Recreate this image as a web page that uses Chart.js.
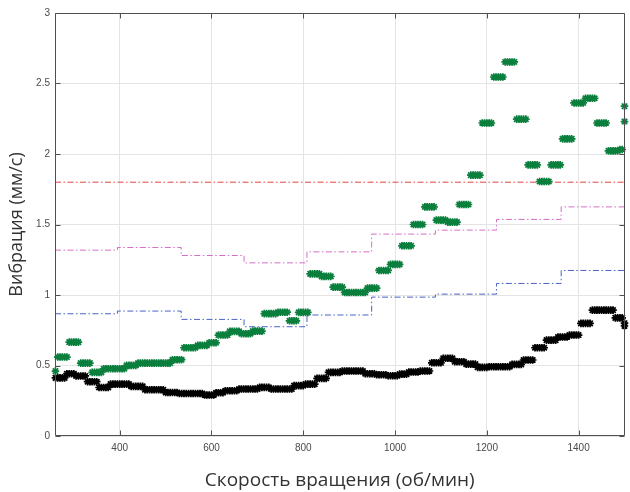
<!DOCTYPE html>
<html><head><meta charset="utf-8">
<script src="https://cdn.jsdelivr.net/npm/chart.js@4.4.1/dist/chart.umd.min.js"></script>
<style>html,body{margin:0;padding:0;background:#fff;} #wrap{width:630px;height:492px;position:relative;}</style>
</head><body><div id="wrap"><canvas id="c"></canvas></div>
<script>
// Speed (rpm) sample points
const rpm = [
 260,265,270,275,280,285,290,295,
 300,305,310,315,320,325,330,335,340,345,350,355,360,365,370,375,380,385,390,395,
 400,405,410,415,420,425,430,435,440,445,450,455,460,465,470,475,480,485,490,495,
 500,505,510,515,520,525,530,535,540,545,550,555,560,565,570,575,580,585,590,595,
 600,605,610,615,620,625,630,635,640,645,650,655,660,665,670,675,680,685,690,695,
 700,705,710,715,720,725,730,735,740,745,750,755,760,765,770,775,780,785,790,795,
 800,805,810,815,820,825,830,835,840,845,850,855,860,865,870,875,880,885,890,895,
 900,905,910,915,920,925,930,935,940,945,950,955,960,965,970,975,980,985,990,995,
 1000,1005,1010,1015,1020,1025,1030,1035,1040,1045,1050,1055,1060,1065,1070,1075,1080,1085,1090,1095,
 1100,1105,1110,1115,1120,1125,1130,1135,1140,1145,1150,1155,1160,1165,1170,1175,1180,1185,1190,1195,
 1200,1205,1210,1215,1220,1225,1230,1235,1240,1245,1250,1255,1260,1265,1270,1275,1280,1285,1290,1295,
 1300,1305,1310,1315,1320,1325,1330,1335,1340,1345,1350,1355,1360,1365,1370,1375,1380,1385,1390,1395,
 1400,1405,1410,1415,1420,1425,1430,1435,1440,1445,1450,1455,1460,1465,1470,1475,1480,1485,1490,1495,
 1500
];
// Green series (mm/s)
const vibGreen = [
 0.46,0.56,0.56,0.56,0.56,0.56,0.666,0.666,
 0.666,0.666,0.666,0.517,0.517,0.517,0.517,0.517,0.451,0.451,0.451,0.451,0.451,0.477,0.477,0.477,0.477,0.477,0.477,0.477,
 0.477,0.477,0.477,0.501,0.501,0.501,0.501,0.501,0.517,0.517,0.517,0.517,0.517,0.517,0.517,0.517,0.517,0.517,0.517,0.517,
 0.517,0.517,0.517,0.541,0.541,0.541,0.541,0.541,0.626,0.626,0.626,0.626,0.626,0.626,0.643,0.643,0.643,0.643,0.643,0.661,
 0.661,0.661,0.661,0.716,0.716,0.716,0.716,0.716,0.742,0.742,0.742,0.742,0.742,0.725,0.725,0.725,0.725,0.725,0.744,0.744,
 0.744,0.744,0.744,0.868,0.868,0.868,0.868,0.868,0.868,0.878,0.878,0.878,0.878,0.878,0.817,0.817,0.817,0.817,0.877,0.877,
 0.877,0.877,0.877,1.150,1.150,1.150,1.150,1.150,1.132,1.132,1.132,1.132,1.132,1.056,1.056,1.056,1.056,1.056,1.018,1.018,
 1.018,1.018,1.018,1.018,1.018,1.018,1.018,1.018,1.049,1.049,1.049,1.049,1.049,1.174,1.174,1.174,1.174,1.174,1.217,1.217,
 1.217,1.217,1.217,1.349,1.349,1.349,1.349,1.349,1.500,1.500,1.500,1.500,1.500,1.625,1.625,1.625,1.625,1.625,1.531,1.531,
 1.531,1.531,1.531,1.517,1.517,1.517,1.517,1.517,1.642,1.642,1.642,1.642,1.642,1.850,1.850,1.850,1.850,1.850,2.220,2.220,
 2.220,2.220,2.220,2.546,2.546,2.546,2.546,2.546,2.653,2.653,2.653,2.653,2.653,2.247,2.247,2.247,2.247,2.247,1.923,1.923,
 1.923,1.923,1.923,1.805,1.805,1.805,1.805,1.805,1.923,1.923,1.923,1.923,1.923,2.107,2.107,2.107,2.107,2.107,2.362,2.362,
 2.362,2.362,2.362,2.395,2.395,2.395,2.395,2.395,2.220,2.220,2.220,2.220,2.220,2.022,2.022,2.022,2.022,2.022,2.032,2.032,
 2.339
];
// Black series (mm/s)
const vibBlack = [
 0.412,0.412,0.412,0.412,0.412,0.442,0.442,0.442,
 0.442,0.426,0.426,0.426,0.426,0.426,0.385,0.385,0.385,0.385,0.385,0.344,0.344,0.344,0.344,0.344,0.368,0.368,0.368,0.368,
 0.368,0.368,0.368,0.368,0.368,0.352,0.352,0.352,0.352,0.352,0.352,0.328,0.328,0.328,0.328,0.328,0.328,0.328,0.328,0.328,
 0.308,0.308,0.308,0.308,0.308,0.308,0.301,0.301,0.301,0.301,0.301,0.301,0.301,0.301,0.301,0.301,0.301,0.291,0.291,0.291,
 0.291,0.291,0.307,0.307,0.307,0.307,0.321,0.321,0.321,0.321,0.321,0.321,0.333,0.333,0.333,0.333,0.333,0.333,0.333,0.333,
 0.333,0.345,0.345,0.345,0.345,0.345,0.333,0.333,0.333,0.333,0.333,0.333,0.333,0.333,0.333,0.333,0.357,0.357,0.357,0.357,
 0.357,0.368,0.368,0.368,0.368,0.368,0.409,0.409,0.409,0.409,0.409,0.451,0.451,0.451,0.451,0.451,0.451,0.461,0.461,0.461,
 0.461,0.461,0.461,0.461,0.461,0.461,0.461,0.442,0.442,0.442,0.442,0.442,0.434,0.434,0.434,0.434,0.434,0.427,0.427,0.427,
 0.427,0.427,0.439,0.439,0.439,0.439,0.454,0.454,0.454,0.454,0.454,0.461,0.461,0.461,0.461,0.461,0.519,0.519,0.519,0.519,
 0.519,0.551,0.551,0.551,0.551,0.551,0.527,0.527,0.527,0.527,0.527,0.510,0.510,0.510,0.510,0.510,0.487,0.487,0.487,0.487,
 0.487,0.491,0.491,0.491,0.491,0.491,0.491,0.491,0.491,0.491,0.491,0.508,0.508,0.508,0.508,0.508,0.539,0.539,0.539,0.539,
 0.539,0.626,0.626,0.626,0.626,0.626,0.680,0.680,0.680,0.680,0.680,0.702,0.702,0.702,0.702,0.702,0.716,0.716,0.716,0.716,
 0.716,0.799,0.799,0.799,0.799,0.799,0.893,0.893,0.893,0.893,0.893,0.893,0.893,0.893,0.893,0.893,0.838,0.838,0.838,0.838,
 0.800
];
// Extra end points at 1500 rpm
const extraRpm = [1500];
const extraGreen = [2.23];
const extraBlack = [0.78];
// Limit lines (stepped)
const limitRpm = [259, 395, 534, 671, 808, 949, 1088, 1221, 1362, 1500];
const limitMagenta = [1.318, 1.337, 1.28, 1.228, 1.306, 1.432, 1.46, 1.536, 1.625, 1.8];
const limitBlue = [0.867, 0.886, 0.827, 0.775, 0.858, 0.985, 1.006, 1.082, 1.174, 1.354];
const redRpm = [259, 1500];
const limitRed = [1.8, 1.8];
// Axes
const xTicks = [400, 600, 800, 1000, 1200, 1400];
const yTicks = [0, 0.5, 1, 1.5, 2, 2.5, 3];
const xTitle = 'Скорость вращения (об/мин)';
const yTitle = 'Вибрация (мм/с)';

const pts = (xs, ys) => xs.map((x, i) => ({x: x, y: ys[i]}));

const GREEN = '#0b7f3d';
const markerDs = (data, color) => ({
  type: 'scatter', data: data, showLine: false,
  pointStyle: 'star', pointRadius: 3.8, pointBorderWidth: 1.7,
  pointBorderColor: color, pointBackgroundColor: color, borderColor: color, backgroundColor: color,
  pointHoverRadius: 3.8, clip: false
});
const lineDs = (data, color) => ({
  type: 'line', data: data, showLine: true, stepped: true,
  borderColor: color, borderWidth: 1, borderDash: [6, 2.5, 1.5, 2.5],
  pointRadius: 0, fill: false, clip: false
});

const boxPlugin = {
  id: 'box',
  afterDraw(chart) {
    const {ctx, chartArea: a, scales: {x, y}} = chart;
    ctx.save();
    ctx.strokeStyle = '#505050';
    ctx.lineWidth = 1;
    const L = Math.round(a.left) + 0.5, R = Math.round(a.right) - 0.5;
    const T = Math.round(a.top) + 0.5, B = Math.round(a.bottom) - 0.5;
    ctx.beginPath();
    ctx.moveTo(L, T); ctx.lineTo(R, T); ctx.lineTo(R, B); ctx.lineTo(L, B); ctx.closePath();
    const tl = 5;
    xTicks.forEach(v => {
      const px = Math.round(x.getPixelForValue(v)) + 0.5;
      ctx.moveTo(px, B); ctx.lineTo(px, B - tl);
      ctx.moveTo(px, T); ctx.lineTo(px, T + tl);
    });
    yTicks.forEach(v => {
      const py = Math.round(y.getPixelForValue(v)) + 0.5;
      ctx.moveTo(L, py); ctx.lineTo(L + tl, py);
      ctx.moveTo(R, py); ctx.lineTo(R - tl, py);
    });
    ctx.stroke();
    ctx.restore();
  }
};

new Chart(document.getElementById('c'), {
  type: 'scatter',
  data: {
    datasets: [
      markerDs(pts(rpm, vibGreen).concat(pts(extraRpm, extraGreen)), GREEN),
      markerDs(pts(rpm, vibBlack).concat(pts(extraRpm, extraBlack)), '#000000'),
      lineDs(pts(redRpm, limitRed), '#e5443f'),
      lineDs(pts(limitRpm, limitMagenta), '#d46fc6'),
      lineDs(pts(limitRpm, limitBlue), '#4a63c4')
    ]
  },
  options: {
    responsive: true, maintainAspectRatio: false, animation: false,
    layout: {padding: {left: 0, right: 4, top: 13, bottom: 0}},
    plugins: {legend: {display: false}, tooltip: {enabled: false}},
    scales: {
      x: {
        type: 'linear', min: 259, max: 1500,
        afterBuildTicks: s => { s.ticks = xTicks.map(v => ({value: v})); },
        afterFit: s => { s.height = 56; },
        grid: {color: '#e4e4e4', lineWidth: 1, drawTicks: false},
        border: {display: false},
        ticks: {padding: 6, color: '#4a4a4a', font: {family: 'Liberation Sans', size: 10}, callback: v => String(v), maxRotation: 0},
        title: {display: true, text: xTitle, color: '#333333', font: {family: 'Open Sans', size: 19}, padding: {top: 0, bottom: 0}}
      },
      y: {
        type: 'linear', min: 0, max: 3,
        afterBuildTicks: s => { s.ticks = yTicks.map(v => ({value: v})); },
        afterFit: s => { s.width = 55; },
        grid: {color: '#e4e4e4', lineWidth: 1, drawTicks: false},
        border: {display: false},
        ticks: {padding: 5, color: '#4a4a4a', font: {family: 'Liberation Sans', size: 10}, callback: v => String(v)},
        title: {display: true, text: yTitle, color: '#333333', font: {family: 'Open Sans', size: 18}, padding: {top: 6, bottom: 0}}
      }
    }
  },
  plugins: [boxPlugin]
});
</script>
</body></html>
